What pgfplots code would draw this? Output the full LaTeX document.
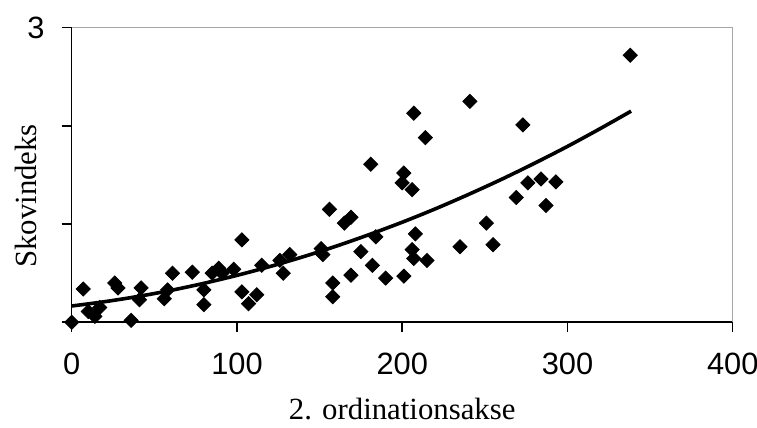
\documentclass[border=0pt]{standalone}
\usepackage{fontspec}
\setmainfont{Liberation Serif}
\newfontfamily\arialfont{Liberation Sans}
\usepackage{pgfplots}
\pgfplotsset{compat=1.18}

\begin{document}
\begin{tikzpicture}
\path[use as bounding box] (-35.85pt,-52.85pt) rectangle (342.65pt,161.15pt);
\begin{axis}[
    at={(0,0)}, anchor=south west,
    scale only axis,
    width=330.5pt, height=147.3pt,
    xmin=0, xmax=400,
    ymin=0, ymax=3,
    clip=false,
    axis lines*=left,
    axis line style={black, line width=0.8pt},
    tick align=outside,
    major tick length=5pt,
    tick style={black, line width=0.8pt},
    xtick={0,100,200,300,400},
    ytick={0,1,2,3},
    yticklabels={,,,3},
    /pgf/number format/assume math mode=true,
    tick label style={font=\arialfont\fontsize{15.4}{18}\selectfont, inner sep=0pt},
    xticklabel style={anchor=north, yshift=-10.35pt},
    yticklabel style={anchor=east, xshift=-8.35pt},
    xlabel={2. ordinationsakse},
    xlabel style={at={(axis description cs:0.5,-0.33)}, anchor=base, inner sep=0pt, font=\fontsize{15.4}{18}\selectfont},
    ylabel={Skovindeks},
    ylabel style={at={(axis description cs:-0.0525,0.4287)}, anchor=base, inner sep=0pt, font=\fontsize{15.4}{18}\selectfont},
]
% trend line (2nd order)
\addplot[black, line width=1.8pt, smooth] coordinates {
    (0,0.166) (20,0.210) (40,0.263) (60,0.325) (80,0.397) (100,0.478)
    (120,0.568) (140,0.667) (160,0.775) (180,0.893) (200,1.019) (220,1.155)
    (240,1.301) (260,1.455) (280,1.619) (300,1.791) (320,1.974) (338.5,2.15)
};
% stands
\addplot[only marks, mark=square*, mark size=2.5pt, mark options={rotate=45, fill=black, draw=black}] coordinates {
    (0,0.0) (7,0.34) (10,0.11) (14,0.06) (17,0.15) (26,0.40) (28,0.35)
    (36,0.02) (42,0.35) (41,0.23) (56,0.24) (61,0.50) (58,0.33) (73,0.51)
    (80,0.33) (80,0.18) (85,0.50) (89,0.55) (91,0.50) (98,0.54) (103,0.84)
    (103,0.31) (107,0.19) (112,0.28) (115,0.58) (126,0.63) (128,0.50)
    (132,0.69) (151,0.75) (152,0.69) (156,1.15) (158,0.40) (158,0.26)
    (165,1.01) (169,1.07) (169,0.48) (175,0.72) (181,1.61) (182,0.58)
    (184,0.87) (190,0.45) (200,1.42) (201,1.52) (201,0.47) (206,1.35)
    (206,0.74) (207,0.65) (207,2.13) (208,0.90) (214,1.88) (215,0.63)
    (235,0.77) (241,2.25) (251,1.01) (255,0.79) (269,1.27) (273,2.01)
    (276,1.42) (284,1.46) (287,1.19) (293,1.43) (338,2.72)
};
\draw[gray!70, line width=0.8pt] (rel axis cs:0,1) -- (rel axis cs:1,1) -- (rel axis cs:1,0);
\end{axis}
\end{tikzpicture}
\end{document}
